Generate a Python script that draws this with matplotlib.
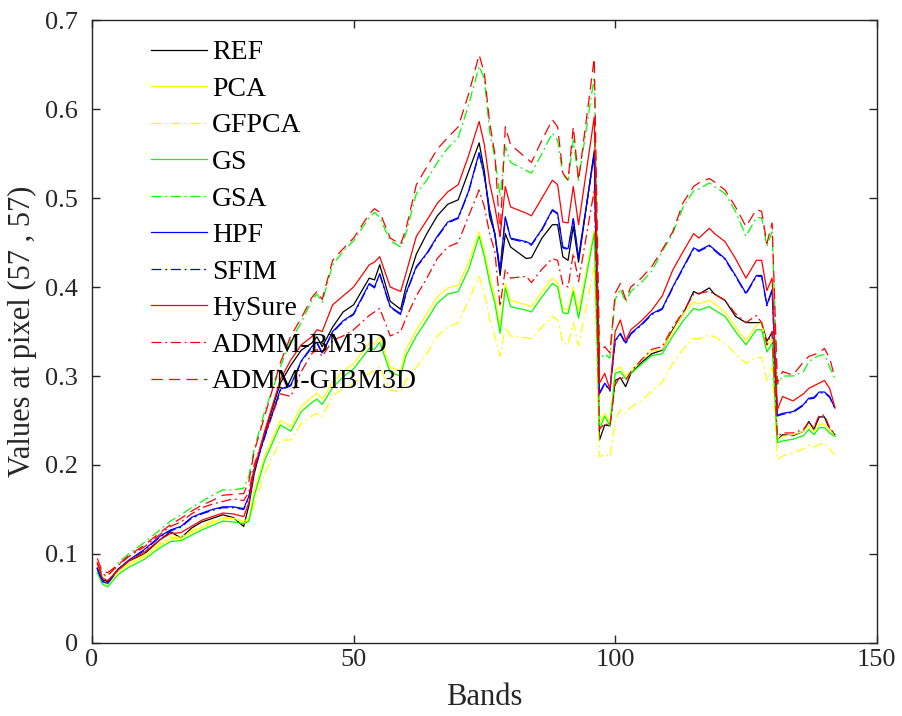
import numpy as np
import matplotlib.pyplot as plt

bands = [1, 2, 3, 5, 7, 10, 13, 15, 17, 19,
         21, 23, 25, 27, 29, 30, 31, 33, 36, 38,
         40, 42, 43, 44, 46, 48, 50, 53, 54, 55,
         57, 59, 60, 62, 64, 66, 68, 70, 72, 74,
         75, 76, 77, 78, 79, 80, 83, 84, 86, 88,
         89, 90, 91, 92, 93, 96, 97, 98, 99, 100,
         101, 102, 103, 105, 107, 109, 111, 113, 115, 116,
         118, 119, 121, 123, 125, 127, 128, 129, 130, 131,
         132, 134, 136, 137, 138, 139, 140, 141, 142]

ref = [0.084, 0.071, 0.069, 0.083, 0.092, 0.100, 0.116, 0.125, 0.118, 0.129,
       0.136, 0.140, 0.144, 0.141, 0.131, 0.155, 0.190, 0.236, 0.292, 0.312,
       0.329, 0.337, 0.344, 0.333, 0.355, 0.372, 0.380, 0.410, 0.408, 0.425,
       0.384, 0.375, 0.400, 0.437, 0.460, 0.480, 0.493, 0.498, 0.530, 0.562,
       0.530, 0.479, 0.460, 0.413, 0.460, 0.445, 0.432, 0.433, 0.455, 0.470,
       0.470, 0.434, 0.430, 0.468, 0.428, 0.553, 0.228, 0.245, 0.244, 0.295,
       0.298, 0.288, 0.303, 0.315, 0.325, 0.329, 0.352, 0.370, 0.395, 0.392,
       0.399, 0.392, 0.385, 0.367, 0.360, 0.360, 0.360, 0.339, 0.349, 0.228,
       0.234, 0.233, 0.238, 0.249, 0.240, 0.254, 0.254, 0.240, 0.234]

pca = [0.082, 0.068, 0.066, 0.080, 0.088, 0.097, 0.110, 0.117, 0.118, 0.124,
       0.130, 0.135, 0.140, 0.140, 0.137, 0.140, 0.170, 0.210, 0.250, 0.243,
       0.266, 0.276, 0.281, 0.274, 0.293, 0.305, 0.314, 0.337, 0.336, 0.344,
       0.310, 0.306, 0.330, 0.352, 0.370, 0.389, 0.399, 0.402, 0.428, 0.462,
       0.440, 0.413, 0.390, 0.355, 0.404, 0.385, 0.380, 0.378, 0.395, 0.410,
       0.405, 0.376, 0.374, 0.400, 0.373, 0.464, 0.246, 0.258, 0.248, 0.307,
       0.310, 0.300, 0.305, 0.318, 0.328, 0.330, 0.350, 0.370, 0.383, 0.381,
       0.385, 0.381, 0.372, 0.355, 0.340, 0.357, 0.360, 0.334, 0.342, 0.228,
       0.232, 0.234, 0.238, 0.244, 0.238, 0.246, 0.246, 0.240, 0.232]

gfpca = [0.083, 0.069, 0.067, 0.081, 0.090, 0.099, 0.112, 0.119, 0.119, 0.126,
         0.132, 0.137, 0.141, 0.140, 0.135, 0.137, 0.155, 0.190, 0.228, 0.228,
         0.247, 0.255, 0.258, 0.254, 0.278, 0.286, 0.292, 0.303, 0.306, 0.310,
         0.284, 0.282, 0.295, 0.310, 0.325, 0.345, 0.355, 0.360, 0.385, 0.412,
         0.395, 0.363, 0.345, 0.322, 0.355, 0.345, 0.343, 0.342, 0.355, 0.367,
         0.363, 0.337, 0.335, 0.360, 0.334, 0.423, 0.209, 0.212, 0.209, 0.250,
         0.262, 0.258, 0.265, 0.272, 0.283, 0.293, 0.314, 0.330, 0.342, 0.342,
         0.346, 0.344, 0.337, 0.325, 0.314, 0.321, 0.321, 0.295, 0.310, 0.206,
         0.210, 0.214, 0.218, 0.222, 0.220, 0.223, 0.225, 0.218, 0.211]

gs = [0.079, 0.066, 0.063, 0.077, 0.085, 0.094, 0.107, 0.114, 0.115, 0.121,
      0.127, 0.132, 0.137, 0.136, 0.134, 0.137, 0.165, 0.205, 0.245, 0.238,
      0.260, 0.270, 0.274, 0.268, 0.287, 0.299, 0.308, 0.331, 0.330, 0.338,
      0.304, 0.300, 0.323, 0.345, 0.363, 0.382, 0.392, 0.395, 0.420, 0.457,
      0.434, 0.405, 0.382, 0.348, 0.399, 0.378, 0.374, 0.372, 0.389, 0.404,
      0.400, 0.371, 0.370, 0.395, 0.365, 0.460, 0.240, 0.255, 0.244, 0.303,
      0.305, 0.297, 0.303, 0.313, 0.323, 0.325, 0.345, 0.362, 0.376, 0.374,
      0.378, 0.374, 0.367, 0.350, 0.335, 0.352, 0.352, 0.327, 0.337, 0.225,
      0.227, 0.229, 0.233, 0.240, 0.234, 0.242, 0.242, 0.236, 0.232]

gsa = [0.088, 0.076, 0.075, 0.090, 0.100, 0.113, 0.127, 0.137, 0.144, 0.152,
       0.159, 0.166, 0.172, 0.172, 0.174, 0.188, 0.218, 0.260, 0.310, 0.340,
       0.360, 0.385, 0.392, 0.383, 0.425, 0.440, 0.452, 0.478, 0.484, 0.478,
       0.452, 0.445, 0.460, 0.505, 0.520, 0.540, 0.556, 0.568, 0.605, 0.648,
       0.634, 0.575, 0.545, 0.502, 0.558, 0.540, 0.531, 0.528, 0.550, 0.573,
       0.565, 0.526, 0.520, 0.565, 0.520, 0.636, 0.318, 0.325, 0.320, 0.386,
       0.398, 0.383, 0.395, 0.405, 0.418, 0.440, 0.460, 0.490, 0.508, 0.510,
       0.517, 0.513, 0.505, 0.485, 0.457, 0.478, 0.478, 0.446, 0.462, 0.290,
       0.300, 0.300, 0.305, 0.316, 0.320, 0.323, 0.324, 0.310, 0.297]

hpf = [0.084, 0.069, 0.067, 0.083, 0.093, 0.105, 0.120, 0.127, 0.131, 0.141,
       0.146, 0.150, 0.153, 0.153, 0.151, 0.165, 0.195, 0.232, 0.285, 0.290,
       0.317, 0.333, 0.338, 0.326, 0.350, 0.362, 0.370, 0.404, 0.400, 0.415,
       0.378, 0.370, 0.393, 0.423, 0.438, 0.457, 0.473, 0.478, 0.508, 0.551,
       0.525, 0.487, 0.460, 0.420, 0.479, 0.455, 0.451, 0.448, 0.465, 0.487,
       0.483, 0.445, 0.443, 0.477, 0.433, 0.550, 0.281, 0.292, 0.284, 0.340,
       0.348, 0.337, 0.348, 0.358, 0.370, 0.376, 0.400, 0.422, 0.444, 0.441,
       0.447, 0.442, 0.432, 0.413, 0.393, 0.413, 0.413, 0.380, 0.397, 0.256,
       0.258, 0.260, 0.268, 0.275, 0.276, 0.282, 0.282, 0.277, 0.264]

sfim = [0.083, 0.069, 0.067, 0.082, 0.092, 0.104, 0.119, 0.126, 0.130, 0.140,
        0.145, 0.149, 0.152, 0.152, 0.150, 0.164, 0.194, 0.231, 0.284, 0.289,
        0.316, 0.332, 0.337, 0.325, 0.349, 0.361, 0.369, 0.403, 0.399, 0.414,
        0.377, 0.369, 0.392, 0.422, 0.437, 0.456, 0.472, 0.477, 0.507, 0.550,
        0.524, 0.486, 0.459, 0.419, 0.478, 0.454, 0.450, 0.447, 0.464, 0.486,
        0.482, 0.444, 0.442, 0.476, 0.432, 0.549, 0.280, 0.291, 0.283, 0.339,
        0.347, 0.336, 0.347, 0.357, 0.369, 0.375, 0.399, 0.421, 0.443, 0.440,
        0.446, 0.441, 0.431, 0.412, 0.392, 0.412, 0.412, 0.379, 0.396, 0.255,
        0.257, 0.259, 0.267, 0.274, 0.275, 0.281, 0.281, 0.276, 0.263]

hysure = [0.090, 0.073, 0.070, 0.082, 0.092, 0.102, 0.116, 0.123, 0.124, 0.131,
          0.138, 0.142, 0.146, 0.145, 0.142, 0.158, 0.195, 0.238, 0.296, 0.318,
          0.335, 0.344, 0.352, 0.350, 0.380, 0.390, 0.400, 0.425, 0.428, 0.434,
          0.400, 0.395, 0.415, 0.457, 0.475, 0.494, 0.507, 0.515, 0.548, 0.586,
          0.560, 0.517, 0.490, 0.457, 0.513, 0.490, 0.483, 0.480, 0.500, 0.520,
          0.515, 0.473, 0.472, 0.513, 0.470, 0.591, 0.292, 0.303, 0.285, 0.350,
          0.363, 0.340, 0.352, 0.362, 0.374, 0.390, 0.419, 0.440, 0.460, 0.455,
          0.466, 0.460, 0.451, 0.432, 0.410, 0.430, 0.430, 0.396, 0.410, 0.262,
          0.277, 0.272, 0.280, 0.286, 0.289, 0.292, 0.295, 0.286, 0.265]

bm3d = [0.090, 0.077, 0.076, 0.087, 0.097, 0.108, 0.122, 0.131, 0.136, 0.145,
        0.152, 0.156, 0.159, 0.162, 0.160, 0.170, 0.200, 0.235, 0.280, 0.277,
        0.305, 0.325, 0.330, 0.322, 0.340, 0.345, 0.352, 0.368, 0.372, 0.376,
        0.345, 0.350, 0.365, 0.390, 0.410, 0.432, 0.445, 0.450, 0.480, 0.509,
        0.490, 0.460, 0.440, 0.378, 0.420, 0.410, 0.412, 0.405, 0.420, 0.432,
        0.430, 0.403, 0.400, 0.438, 0.406, 0.509, 0.240, 0.247, 0.244, 0.290,
        0.300, 0.295, 0.305, 0.318, 0.330, 0.333, 0.355, 0.372, 0.392, 0.393,
        0.395, 0.392, 0.385, 0.370, 0.360, 0.368, 0.360, 0.335, 0.350, 0.232,
        0.236, 0.236, 0.240, 0.248, 0.242, 0.256, 0.256, 0.242, 0.235]

gibm3d = [0.095, 0.080, 0.079, 0.088, 0.098, 0.110, 0.124, 0.133, 0.140, 0.148,
          0.155, 0.160, 0.166, 0.167, 0.168, 0.182, 0.215, 0.255, 0.315, 0.345,
          0.365, 0.388, 0.395, 0.386, 0.430, 0.443, 0.455, 0.482, 0.488, 0.484,
          0.455, 0.448, 0.465, 0.515, 0.535, 0.555, 0.568, 0.580, 0.617, 0.661,
          0.640, 0.585, 0.550, 0.457, 0.580, 0.560, 0.545, 0.540, 0.565, 0.588,
          0.580, 0.528, 0.520, 0.580, 0.520, 0.657, 0.326, 0.333, 0.326, 0.393,
          0.404, 0.386, 0.400, 0.410, 0.423, 0.442, 0.462, 0.495, 0.513, 0.517,
          0.522, 0.518, 0.509, 0.490, 0.468, 0.487, 0.485, 0.449, 0.472, 0.292,
          0.305, 0.301, 0.316, 0.322, 0.324, 0.326, 0.331, 0.320, 0.298]

labels = ['REF', 'PCA', 'GFPCA', 'GS', 'GSA', 'HPF', 'SFIM', 'HySure',
          'ADMM-BM3D', 'ADMM-GIBM3D']

plt.rcParams['font.family'] = ['Liberation Serif', 'DejaVu Serif']

fig = plt.figure(figsize=(9.02, 7.16), dpi=100)
ax = fig.add_axes([0.102, 0.102, 0.870, 0.870])

dd = (8, 3, 1.5, 3)
ax.plot(bands, ref, color='k', lw=0.9, label=labels[0])
ax.plot(bands, pca, color='#ffff00', lw=0.9, label=labels[1])
ax.plot(bands, gfpca, color='#ffff00', lw=0.9, dashes=dd, label=labels[2])
ax.plot(bands, gs, color='#00ff00', lw=0.9, label=labels[3])
ax.plot(bands, gsa, color='#00ff00', lw=0.9, dashes=dd, label=labels[4])
ax.plot(bands, hpf, color='#0000ff', lw=0.9, label=labels[5])
ax.plot(bands, sfim, color='#0000ff', lw=0.9, dashes=dd, label=labels[6])
ax.plot(bands, hysure, color='#ff0000', lw=0.9, label=labels[7])
ax.plot(bands, bm3d, color='#ff0000', lw=0.9, dashes=dd, label=labels[8])
ax.plot(bands, gibm3d, color='#ff0000', lw=0.9, dashes=(9, 5), label=labels[9])

ax.set_xlim(0, 150)
ax.set_ylim(0, 0.7)
ax.set_xticks([0, 50, 100, 150])
ax.set_yticks(np.arange(0, 0.71, 0.1))
ax.set_yticklabels(['0', '0.1', '0.2', '0.3', '0.4', '0.5', '0.6', '0.7'])
ax.tick_params(direction='in', top=True, right=True, length=6, width=1,
               labelsize=19, colors='#262626')
ax.tick_params(axis='y', pad=10)
ax.tick_params(axis='x', pad=4)
for s in ax.spines.values():
    s.set_color('#262626')
    s.set_linewidth(1.0)

ax.set_xlabel('Bands', fontsize=22, color='#262626', labelpad=9)
ax.set_ylabel('Values at pixel (57 , 57)', fontsize=22, color='#262626',
              labelpad=6)

ax.legend(loc='upper left', bbox_to_anchor=(0.061, 0.986), frameon=False,
          fontsize=20, handlelength=2.0, handletextpad=0.2, labelspacing=0.4,
          borderaxespad=0)

fig.savefig('out.png', dpi=100)
